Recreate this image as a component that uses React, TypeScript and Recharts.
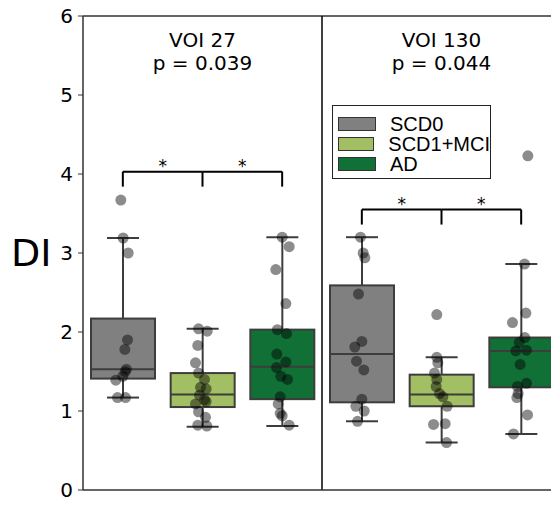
import React from "react";
import { ComposedChart, Bar, Scatter, XAxis, YAxis, ReferenceLine, ReferenceDot, Legend } from "recharts";

const groups = ["SCD0", "SCD1+MCI", "AD"];
const groupColors = ["#808080", "#a3bf63", "#117036"];
const panels = ["VOI 27", "VOI 130"];
const pValues = ["p = 0.039", "p = 0.044"];
const yTicks = [0, 1, 2, 3, 4, 5, 6];

// [whisker low, q1, median, q3, whisker high] per group
const voi27Boxes = [
    [1.17, 1.41, 1.53, 2.17, 3.19],
    [0.80, 1.05, 1.21, 1.48, 2.04],
    [0.81, 1.15, 1.56, 2.03, 3.20],
];
const voi130Boxes = [
    [0.87, 1.11, 1.72, 2.59, 3.20],
    [0.60, 1.06, 1.21, 1.46, 1.68],
    [0.71, 1.30, 1.76, 1.93, 2.86],
];

// [jitter, value]
const voi27Scd0 = [
    [-0.025, 3.67], [0.004, 3.19], [0.067, 3.0], [0.059, 1.9], [0.025, 1.78], [0.046, 1.53],
    [0.03, 1.5], [0.0, 1.44], [-0.088, 1.39], [-0.067, 1.17], [0.034, 1.17],
];
const voi27Mci = [
    [-0.05, 2.04], [0.059, 2.01], [-0.059, 1.83], [-0.088, 1.61], [-0.05, 1.48], [0.025, 1.4],
    [-0.025, 1.3], [0.046, 1.28], [-0.038, 1.2], [0.025, 1.14], [-0.088, 1.09], [0.046, 1.12],
    [-0.05, 0.99], [0.038, 0.92], [-0.059, 0.82], [0.054, 0.81],
];
const voi27Ad = [
    [0.0, 3.2], [0.088, 3.08], [-0.08, 2.79], [0.046, 2.36], [-0.06, 2.03], [0.054, 1.98],
    [-0.067, 1.72], [0.046, 1.62], [-0.07, 1.55], [-0.017, 1.44], [0.067, 1.4], [-0.025, 1.18],
    [-0.05, 1.09], [-0.025, 0.97], [0.0, 0.94], [0.088, 0.82],
];
const voi130Scd0 = [
    [-0.017, 3.2], [0.017, 3.0], [0.038, 2.94], [-0.042, 2.48], [0.0, 1.88], [-0.088, 1.81],
    [-0.067, 1.63], [0.025, 1.52], [0.0, 1.15], [-0.075, 1.06], [0.03, 1.0], [-0.054, 0.87],
];
const voi130Mci = [
    [-0.059, 2.22], [-0.059, 1.68], [-0.046, 1.61], [-0.088, 1.48], [-0.059, 1.4], [-0.067, 1.31],
    [-0.025, 1.22], [0.017, 1.18], [0.071, 1.06], [-0.1, 0.83], [0.046, 0.84], [0.063, 0.6],
];
const voi130Ad = [
    [0.084, 4.23], [0.042, 2.86], [0.059, 2.24], [-0.109, 2.12], [0.046, 1.93], [-0.025, 1.87],
    [0.067, 1.77], [-0.067, 1.76], [-0.013, 1.59], [0.067, 1.35], [-0.046, 1.31], [-0.038, 1.22],
    [-0.054, 1.17], [0.08, 0.95], [-0.096, 0.71],
];

// significance brackets: group pairs, bracket height per panel
const bracketPairs = [[0, 1], [1, 2]];
const bracketY = [4.03, 3.55];
const bracketDrop = 0.19;
const titleY = [5.7, 5.41];

const boxes = [voi27Boxes, voi130Boxes];
const points = [[voi27Scd0, voi27Mci, voi27Ad], [voi130Scd0, voi130Mci, voi130Ad]];

const rows = panels.flatMap((p, pi) =>
    groups.map((g, gi) => {
        const [lo, q1, med, q3, hi] = boxes[pi][gi];
        return { key: `${p} ${g}`, group: gi, lo, q1, med, q3, hi, base: q1, iqr: q3 - q1 };
    })
);

const scatterData = points.flatMap((panel, pi) =>
    panel.flatMap((pts, gi) => pts.map(([j, v]) => ({ x: pi * 3 + gi + 0.5 + j, y: v })))
);

const EDGE = "#3d3d3d";

const BoxShape = (props: any) => {
    const { x, y, width, height, payload } = props;
    const ppu = height / payload.iqr;
    const cx = x + width / 2;
    const bottom = y + height;
    const top = y - (payload.hi - payload.q3) * ppu;
    const low = bottom + (payload.q1 - payload.lo) * ppu;
    const med = bottom - (payload.med - payload.q1) * ppu;
    const cap = width / 4;
    return (
        <g>
            <line x1={cx} x2={cx} y1={top} y2={y} stroke={EDGE} strokeWidth={2} />
            <line x1={cx} x2={cx} y1={bottom} y2={low} stroke={EDGE} strokeWidth={2} />
            <line x1={cx - cap} x2={cx + cap} y1={top} y2={top} stroke={EDGE} strokeWidth={2} />
            <line x1={cx - cap} x2={cx + cap} y1={low} y2={low} stroke={EDGE} strokeWidth={2} />
            <rect x={x} y={y} width={width} height={height} fill={groupColors[payload.group]} stroke={EDGE} strokeWidth={2} />
            <line x1={x} x2={x + width} y1={med} y2={med} stroke={EDGE} strokeWidth={2} />
        </g>
    );
};

const Dot = (props: any) => (
    <circle cx={props.cx} cy={props.cy} r={5.5} fill="#000" fillOpacity={0.45} />
);

const LegendBox = () => (
    <div
        style={{
            border: "1px solid #222",
            background: "#fff",
            width: 152,
            padding: "8px 0 4px 5px",
            fontFamily: "Liberation Sans",
            fontSize: 20,
        }}
    >
        {groups.map((g, i) => (
            <div key={g} style={{ display: "flex", alignItems: "center", height: 20, whiteSpace: "nowrap" }}>
                <span
                    style={{
                        display: "inline-block",
                        width: 36,
                        height: 12,
                        background: groupColors[i],
                        border: "1.5px solid #333",
                        marginRight: 14,
                    }}
                />
                <span>{g}</span>
            </div>
        ))}
    </div>
);

export default function App() {
    return (
        <div style={{ position: "absolute", left: 0, top: 0, width: 551, height: 506, overflow: "hidden", fontFamily: "DejaVu Sans" }}>
            <ComposedChart width={561} height={506} data={rows} margin={{ top: 16, right: 0, left: 8, bottom: 0 }}>
                <XAxis
                    xAxisId="cat"
                    dataKey="key"
                    type="category"
                    tick={false}
                    tickSize={2}
                    height={16}
                    axisLine={{ stroke: "#333", strokeWidth: 1.5 }}
                    tickLine={{ stroke: "#333" }}
                />
                <XAxis xAxisId="num" dataKey="x" type="number" domain={[0, 6]} allowDataOverflow hide />
                <YAxis
                    domain={[0, 6]}
                    ticks={yTicks}
                    width={75}
                    tickSize={5}
                    tickMargin={5}
                    interval={0}
                    allowDataOverflow
                    axisLine={{ stroke: "#333", strokeWidth: 1.5 }}
                    tickLine={{ stroke: "#333" }}
                    tick={{ fontSize: 20, fill: "#000", fontFamily: "DejaVu Sans" }}
                    label={{ value: "DI", position: "insideLeft", offset: 3, fontSize: 38, fill: "#000", fontFamily: "DejaVu Sans" }}
                />
                <Bar xAxisId="cat" dataKey="base" stackId="b" fill="none" barSize={64} isAnimationActive={false} />
                <Bar xAxisId="cat" dataKey="iqr" stackId="b" barSize={64} shape={BoxShape} isAnimationActive={false} />
                <Scatter xAxisId="num" data={scatterData} dataKey="y" shape={Dot} isAnimationActive={false} />
                <ReferenceLine xAxisId="num" y={6} stroke="#333" strokeWidth={1.5} />
                <ReferenceLine xAxisId="num" x={3} stroke="#000" strokeWidth={1.5} />
                {panels.map((p, pi) => (
                    <React.Fragment key={p}>
                        <ReferenceDot xAxisId="num" x={pi * 3 + 1.5} y={titleY[0]} r={0} stroke="none"
                            label={{ value: p, position: "center", fontSize: 20, fill: "#000" }} />
                        <ReferenceDot xAxisId="num" x={pi * 3 + 1.5} y={titleY[1]} r={0} stroke="none"
                            label={{ value: pValues[pi], position: "center", fontSize: 20, fill: "#000" }} />
                        {bracketPairs.map(([a, b]) => (
                            <React.Fragment key={`${p}-${a}-${b}`}>
                                <ReferenceLine xAxisId="num" stroke="#000" strokeWidth={2}
                                    segment={[{ x: pi * 3 + a + 0.5, y: bracketY[pi] }, { x: pi * 3 + b + 0.5, y: bracketY[pi] }]} />
                                <ReferenceDot xAxisId="num" x={pi * 3 + (a + b) / 2 + 0.5} y={bracketY[pi]} r={0} stroke="none"
                                    label={{ value: "*", position: "top", offset: 0, fontSize: 17, fill: "#000" }} />
                            </React.Fragment>
                        ))}
                        {groups.map((g, gi) => (
                            <ReferenceLine key={`${p}-${g}-drop`} xAxisId="num" stroke="#000" strokeWidth={2}
                                segment={[{ x: pi * 3 + gi + 0.5, y: bracketY[pi] }, { x: pi * 3 + gi + 0.5, y: bracketY[pi] - bracketDrop }]} />
                        ))}
                    </React.Fragment>
                ))}
                <Legend
                    layout="horizontal"
                    verticalAlign="middle"
                    align="center"
                    content={LegendBox}
                    wrapperStyle={{ position: "absolute", left: 332, top: 105, width: "auto" }}
                />
            </ComposedChart>
        </div>
    );
}
